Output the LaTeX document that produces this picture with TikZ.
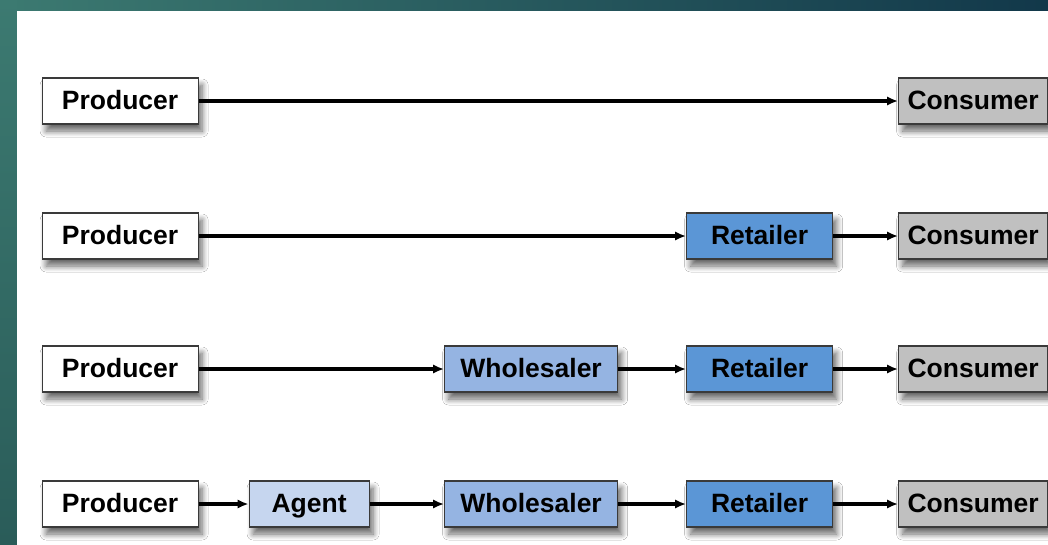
\documentclass[tikz,border=0pt]{standalone}
\usepackage{fontspec}
\setmainfont{Liberation Sans}
\usetikzlibrary{arrows.meta,shadows.blur}

\definecolor{tealA}{HTML}{3C7A71}
\definecolor{tealB}{HTML}{12384A}
\definecolor{tealC}{HTML}{2A5C59}
\definecolor{boxedge}{HTML}{3A3A3A}
\definecolor{agentfill}{HTML}{C6D6EF}
\definecolor{wholefill}{HTML}{95B4E2}
\definecolor{retailfill}{HTML}{5B96D6}
\definecolor{consfill}{HTML}{C0C0C0}

\tikzset{
  box/.style={draw=boxedge, line width=1.2pt, minimum height=46pt,
    inner sep=0pt, anchor=west, text=black,
    text height=20pt, text depth=3pt,
    font=\fontsize{26.5}{30}\selectfont\bfseries,
    blur shadow={shadow xshift=4pt, shadow yshift=-7pt,
      shadow blur radius=6pt, shadow blur steps=8, shadow opacity=60}},
  producer/.style={box, fill=white, minimum width=156pt},
  agent/.style={box, fill=agentfill, minimum width=120pt},
  wholesaler/.style={box, fill=wholefill, minimum width=173pt},
  retailer/.style={box, fill=retailfill, minimum width=146pt},
  consumer/.style={box, fill=consfill, minimum width=149pt},
  flow/.style={line width=3.4pt, black,
    -{Latex[length=11pt, width=9.5pt]}}
}

\begin{document}
\begin{tikzpicture}[x=1pt, y=-1pt]
  \useasboundingbox (0,0) rectangle (1048,544);
  % slide frame: teal bands at top and left, white panel
  \fill[left color=tealA, right color=tealB] (0,0) rectangle (1048,544);
  \fill[top color=tealA, bottom color=tealC] (0,0) rectangle (17,544);
  \fill[white] (17,11) rectangle (1052,548);

  % direct channel
  \node[producer] (p1) at (41.5,101) {Producer};
  \node[consumer] (c1) at (898,101) {Consumer};
  \draw[flow] (p1.east) -- (c1.west);

  % one-level channel
  \node[producer] (p2) at (41.5,236) {Producer};
  \node[retailer] (r2) at (686,236) {Retailer};
  \node[consumer] (c2) at (898,236) {Consumer};
  \draw[flow] (p2.east) -- (r2.west);
  \draw[flow] (r2.east) -- (c2.west);

  % two-level channel
  \node[producer] (p3) at (41.5,369) {Producer};
  \node[wholesaler] (w3) at (444,369) {Wholesaler};
  \node[retailer] (r3) at (686,369) {Retailer};
  \node[consumer] (c3) at (898,369) {Consumer};
  \draw[flow] (p3.east) -- (w3.west);
  \draw[flow] (w3.east) -- (r3.west);
  \draw[flow] (r3.east) -- (c3.west);

  % three-level channel
  \node[producer] (p4) at (41.5,504) {Producer};
  \node[agent] (a4) at (248.5,504) {Agent};
  \node[wholesaler] (w4) at (444,504) {Wholesaler};
  \node[retailer] (r4) at (686,504) {Retailer};
  \node[consumer] (c4) at (898,504) {Consumer};
  \draw[flow] (p4.east) -- (a4.west);
  \draw[flow] (a4.east) -- (w4.west);
  \draw[flow] (w4.east) -- (r4.west);
  \draw[flow] (r4.east) -- (c4.west);
\end{tikzpicture}
\end{document}
